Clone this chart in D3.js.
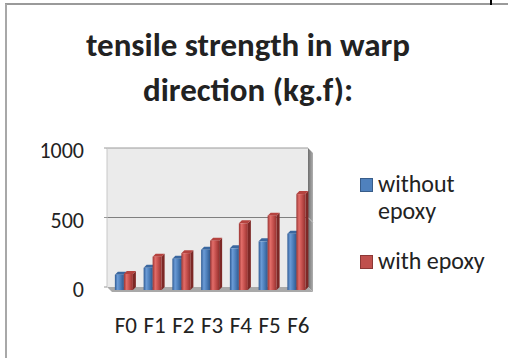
<!DOCTYPE html>
<html lang="en">
<head>
<meta charset="UTF-8">
<title>tensile strength in warp direction</title>
<script src="https://d3js.org/d3.v7.min.js"></script>
<style>
  body { margin: 0; background: #fff; }
  text { font-family: Carlito, Lato, "Open Sans", sans-serif; fill: #222; }
</style>
</head>
<body>
<div class="chart"></div>
<script>
// data
var categories = ["F0", "F1", "F2", "F3", "F4", "F5", "F6"];
var seriesNames = ["without epoxy", "with epoxy"];
var withoutEpoxy = [110, 160, 225, 290, 300, 350, 405];
var withEpoxy = [115, 240, 265, 355, 480, 535, 690];
var yTicks = [0, 500, 1000];

var W = 508, H = 358;
var svg = d3.select(".chart").append("svg")
    .attr("width", W)
    .attr("height", H);

var defs = svg.append("defs");
function grad(id, stops) {
  var g = defs.append("linearGradient").attr("id", id)
      .attr("x1", "0%").attr("x2", "100%").attr("y1", "0%").attr("y2", "0%");
  stops.forEach(s => g.append("stop").attr("offset", s[0]).attr("stop-color", s[1]));
}
grad("gBlue", [["0%", "#2f5b94"], ["30%", "#6b9bd6"], ["60%", "#4f81bd"], ["100%", "#30598f"]]);
grad("gRed", [["0%", "#9a3533"], ["30%", "#e26d69"], ["60%", "#c6514e"], ["100%", "#95312f"]]);
grad("gSide", [["0%", "#6e6e6e"], ["100%", "#b0b0b0"]]);

// frame
svg.append("line").attr("x1", 5).attr("x2", W).attr("y1", 4).attr("y2", 4)
    .style("stroke", "#9a9a9a").style("stroke-width", 2);
svg.append("line").attr("x1", 6).attr("x2", 6).attr("y1", 4).attr("y2", H)
    .style("stroke", "#a8a8a8").style("stroke-width", 2);
svg.append("line").attr("x1", 491).attr("x2", 491).attr("y1", 0).attr("y2", 5)
    .style("stroke", "#000").style("stroke-width", 2);

// title
var title = svg.append("text")
    .attr("text-anchor", "middle")
    .style("font-size", "33px")
    .style("font-weight", "bold");
title.append("tspan").attr("x", 248).attr("y", 56).text("tensile strength in warp");
title.append("tspan").attr("x", 248).attr("y", 101).text("direction (kg.f):");

// scales
var x = d3.scaleBand().domain(categories).range([111.5, 312.75]);
var y = d3.scaleLinear().domain([0, 1000]).range([287, 148]);
var left = 107, right = 308, dep = 5;

// walls
svg.append("rect")
    .attr("x", left).attr("y", y(1000))
    .attr("width", right - left).attr("height", y(0) - y(1000))
    .style("fill", "#ebebeb");
svg.append("line").attr("x1", left).attr("x2", right)
    .attr("y1", y(1000)).attr("y2", y(1000))
    .style("stroke", "#9c9c9c").style("stroke-width", 1.2);
svg.append("path")
    .attr("d", `M${right},${y(1000)}L${right + dep},${y(1000) + dep}L${right + dep},${y(0) + dep}L${right},${y(0)}Z`)
    .style("fill", "url(#gSide)");
svg.append("path")
    .attr("d", `M${left},${y(0)}L${right},${y(0)}L${right + dep},${y(0) + dep}L${left + dep},${y(0) + dep}Z`)
    .style("fill", "#a9a9a9");

// gridlines
svg.selectAll(".grid").data(yTicks.filter(d => d > 0 && d < 1000)).enter()
  .append("line")
    .attr("x1", left).attr("x2", right)
    .attr("y1", d => y(d)).attr("y2", d => y(d))
    .style("stroke", "#7f7f7f").style("stroke-width", 1.2);
svg.selectAll(".gridside").data(yTicks.filter(d => d > 0 && d < 1000)).enter()
  .append("line")
    .attr("x1", right).attr("x2", right + dep)
    .attr("y1", d => y(d)).attr("y2", d => y(d) + dep)
    .style("stroke", "#c8c8c8").style("stroke-width", 1);

// y axis
svg.append("line").attr("x1", left).attr("x2", left)
    .attr("y1", y(1000)).attr("y2", y(0))
    .style("stroke", "#c8c8c8");
svg.selectAll(".ytick").data(yTicks).enter().append("line")
    .attr("x1", left - 3).attr("x2", left)
    .attr("y1", d => y(d)).attr("y2", d => y(d))
    .style("stroke", "#9a9a9a");
svg.selectAll(".ylab").data(yTicks).enter().append("text")
    .attr("x", 84).attr("y", d => y(d) + 10)
    .attr("text-anchor", "end")
    .style("font-size", "22px")
    .text(d => d);

// bars
var bw = 9, d3x = 3, d3y = 3;
var series = [
  {values: withoutEpoxy, fill: "url(#gBlue)", top: "#3a679f", side: "#254a78", off: -11},
  {values: withEpoxy, fill: "url(#gRed)", top: "#b5433f", side: "#7d2826", off: -2}
];
series.forEach(function(s) {
  var g = svg.append("g");
  categories.forEach(function(c, i) {
    var x0 = x(c) + x.bandwidth() / 2 + s.off;
    var yt = y(s.values[i]) + d3y, yb = y(0) + d3y;
    g.append("path")
        .attr("d", `M${x0 + bw},${yt}L${x0 + bw + d3x},${yt - d3y}L${x0 + bw + d3x},${yb - d3y}L${x0 + bw},${yb}Z`)
        .style("fill", s.side);
    g.append("path")
        .attr("d", `M${x0},${yt}L${x0 + d3x},${yt - d3y}L${x0 + bw + d3x},${yt - d3y}L${x0 + bw},${yt}Z`)
        .style("fill", s.top);
    g.append("rect")
        .attr("x", x0).attr("y", yt)
        .attr("width", bw).attr("height", yb - yt)
        .style("fill", s.fill);
  });
});

// x labels
svg.selectAll(".xlab").data(categories).enter().append("text")
    .attr("x", d => x(d) + x.bandwidth() / 2)
    .attr("y", 333)
    .attr("text-anchor", "middle")
    .style("font-size", "23px")
    .text(d => d);

// legend
var legend = [
  {lines: ["without", "epoxy"], color: "#4f81bd", stroke: "#385d8a", y: 178},
  {lines: ["with epoxy"], color: "#c0504d", stroke: "#8c3836", y: 255}
];
legend.forEach(function(l) {
  svg.append("rect")
      .attr("x", 360.5).attr("y", l.y + 0.5)
      .attr("width", 12).attr("height", 13)
      .style("fill", l.color).style("stroke", l.stroke);
  var t = svg.append("text").style("font-size", "24px");
  l.lines.forEach((s, k) => t.append("tspan")
      .attr("x", 378).attr("y", l.y + 14 + k * 27).text(s));
});
</script>
</body>
</html>
